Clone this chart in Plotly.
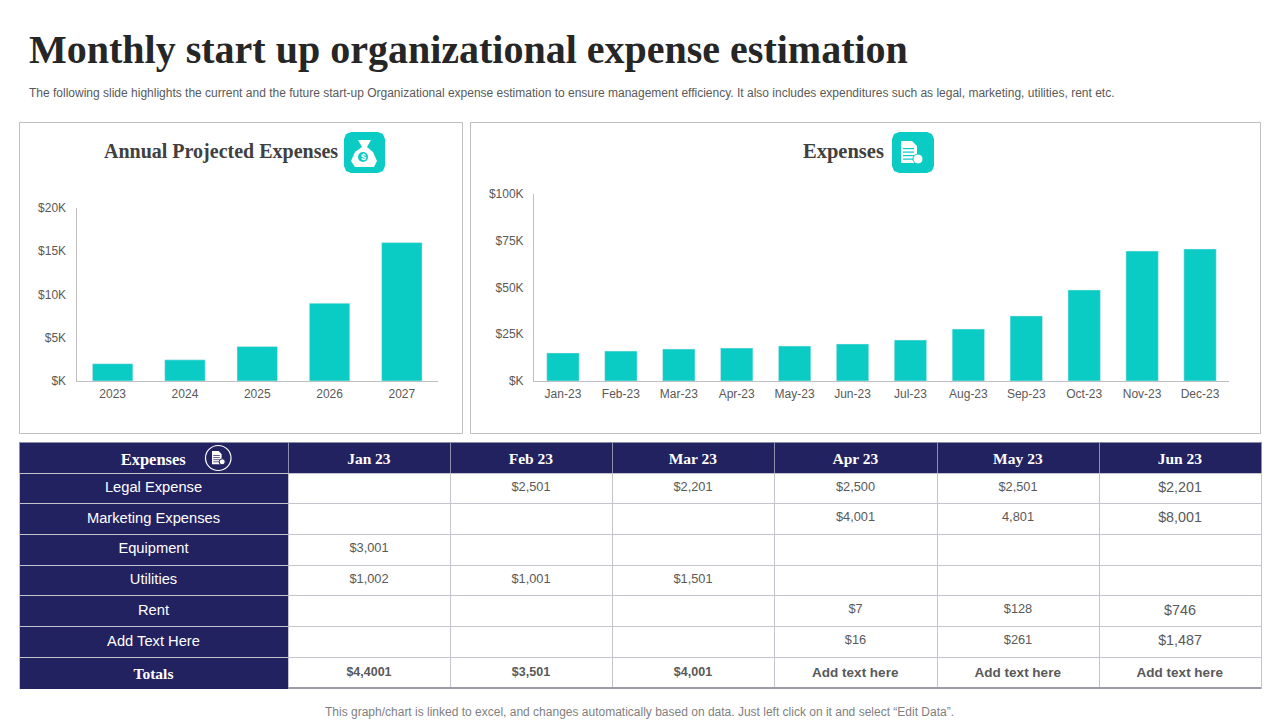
import plotly.graph_objects as go

# chart values
years = ['2023', '2024', '2025', '2026', '2027']
annual = [2000, 2450, 4000, 9000, 16000]
annual_ticks = [0, 5000, 10000, 15000, 20000]
annual_labels = ['$K', '$5K', '$10K', '$15K', '$20K']

months = ['Jan-23', 'Feb-23', 'Mar-23', 'Apr-23', 'May-23', 'Jun-23',
          'Jul-23', 'Aug-23', 'Sep-23', 'Oct-23', 'Nov-23', 'Dec-23']
monthly = [15000, 16000, 17100, 17600, 18700, 19800, 21900, 27800, 34800, 48700, 69500, 70600]
monthly_ticks = [0, 25000, 50000, 75000, 100000]
monthly_labels = ['$K', '$25K', '$50K', '$75K', '$100K']

# table columns
table_head = ['Expenses', 'Jan 23', 'Feb 23', 'Mar 23', 'Apr 23', 'May 23', 'Jun 23']
row_names = ['Legal Expense', 'Marketing Expenses', 'Equipment', 'Utilities', 'Rent', 'Add Text Here']
jan = ['', '', '$3,001', '$1,002', '', '']
feb = ['$2,501', '', '', '$1,001', '', '']
mar = ['$2,201', '', '', '$1,501', '', '']
apr = ['$2,500', '$4,001', '', '', '$7', '$16']
may = ['$2,501', '4,801', '', '', '$128', '$261']
jun = ['$2,201', '$8,001', '', '', '$746', '$1,487']
totals = ['Totals', '$4,4001', '$3,501', '$4,001', 'Add text here', 'Add text here', 'Add text here']

TEAL = '#0BCBC5'
NAVY = '#232261'
GREY = '#595959'
SANS = 'Liberation Sans'
SERIF = 'Liberation Serif'
COL_WIDTHS = [269, 162, 162, 162, 163, 162, 162]
CLEAR = 'rgba(0,0,0,0)'
HEADER_STRIP = 16  # a table always keeps this much for its header row, even an empty one

# the page keeps an 8px body margin, so the figure is 8px short each way
W = 1272
H = 712


# the slide is laid out in pixels, paper coords are easier to get this way
def px(x):
    return (x - 8) / W


def py(y):
    return 1 - (y - 8) / H


def label(x, y, text, size, color=GREY, font=SANS, anchor='left'):
    return dict(text=text, x=px(x), y=py(y), xref='paper', yref='paper', showarrow=False,
                xanchor=anchor, yanchor='middle', font=dict(family=font, size=size, color=color))


def box(x0, y0, x1, y1, line='#BFBFBF', fill=None, width=1):
    return dict(type='rect', xref='paper', yref='paper', x0=px(x0), y0=py(y0), x1=px(x1), y1=py(y1),
                line=dict(color=line, width=width), fillcolor=fill, layer='below')


def path_px(points, fill):
    d = 'M ' + ' L '.join(f'{px(a):.5f},{py(b):.5f}' for a, b in points) + ' Z'
    return dict(type='path', xref='paper', yref='paper', path=d, fillcolor=fill, line=dict(width=0))


def tile(x0, y0, x1, y1, r=7):
    pts = [(x0 + r, y0), (x1 - r, y0), (x1 - r * 0.3, y0 + r * 0.3), (x1, y0 + r), (x1, y1 - r),
           (x1 - r * 0.3, y1 - r * 0.3), (x1 - r, y1), (x0 + r, y1), (x0 + r * 0.3, y1 - r * 0.3),
           (x0, y1 - r), (x0, y0 + r), (x0 + r * 0.3, y0 + r * 0.3)]
    return path_px(pts, TEAL)


def doc_icon(x, y, s, fg, bg):
    # small sheet with a coin, x,y is top left of the sheet
    out = [path_px([(x, y), (x + 11 * s, y), (x + 16 * s, y + 5 * s), (x + 16 * s, y + 22 * s), (x, y + 22 * s)], fg)]
    for i in range(4):
        yy = y + (7 + i * 3.5) * s
        out.append(path_px([(x + 2 * s, yy), (x + 13 * s, yy), (x + 13 * s, yy + 1.2 * s), (x + 2 * s, yy + 1.2 * s)], bg))
    out.append(dict(type='circle', xref='paper', yref='paper', x0=px(x + 12 * s), x1=px(x + 22 * s),
                    y0=py(y + 13 * s), y1=py(y + 23 * s), fillcolor=fg, line=dict(color=bg, width=1)))
    return out


def table_part(top, bottom, columns, fills, height, family, sizes, colors, line='#C4C4CC'):
    # font size only goes per column in a table, so head, body and totals are three tables stacked
    return go.Table(
        domain=dict(x=[px(19), px(1261)], y=[py(bottom), py(top - HEADER_STRIP)]),
        columnwidth=COL_WIDTHS,
        header=dict(height=HEADER_STRIP, fill_color=CLEAR, line=dict(color=CLEAR, width=0)),
        cells=dict(values=columns, height=height, fill_color=fills, line=dict(color=line, width=1), align='center',
                   font=dict(family=family, size=sizes, color=colors)),
    )


fig = go.Figure()

fig.add_trace(go.Bar(x=years, y=annual, marker_color=TEAL, xaxis='x', yaxis='y'))
fig.add_trace(go.Bar(x=months, y=monthly, marker_color=TEAL, xaxis='x2', yaxis='y2'))

fig.add_trace(table_part(442, 474, [['<b>' + h + '</b>'] for h in table_head], [NAVY] * 7, 31, SERIF,
                         [16.5] + [15.5] * 6, 'white', line='#8E8EAE'))
fig.add_trace(table_part(473, 658, [row_names, jan, feb, mar, apr, may, jun], [NAVY] + ['white'] * 6, 30.7, SANS,
                         [14.7, 12.8, 12.8, 12.8, 12.8, 12.8, 14.3], ['white'] + [GREY] * 6))
fig.add_trace(table_part(657, 689, [['<b>' + t + '</b>'] for t in totals], [NAVY] + ['white'] * 6, 31,
                         [SERIF] + [SANS] * 6, [15.5] + [12.5] * 3 + [13.5] * 3, ['white'] + [GREY] * 6))

axis_line = '#BFBFBF'
tick_font = dict(family=SANS, size=12, color=GREY)
fig.update_layout(
    width=W, height=H, margin=dict(l=0, r=0, t=0, b=0), paper_bgcolor='white', plot_bgcolor='white',
    showlegend=False, bargap=0.44,
    xaxis=dict(domain=[px(76.5), px(438)], anchor='y', showline=True, linecolor=axis_line, ticks='', automargin=False,
               tickfont=tick_font, showgrid=False, type='category', ticklabelstandoff=2),
    yaxis=dict(domain=[py(381), py(208)], anchor='x', range=[0, 20000], tickvals=annual_ticks, ticktext=annual_labels,
               showline=True, linecolor=axis_line, ticks='', tickfont=tick_font, showgrid=False, zeroline=False,
               automargin=False, ticklabelstandoff=7),
    xaxis2=dict(domain=[px(534), px(1229)], anchor='y2', showline=True, linecolor=axis_line, ticks='', automargin=False,
                tickfont=tick_font, showgrid=False, type='category', ticklabelstandoff=2),
    yaxis2=dict(domain=[py(381), py(194)], anchor='x2', range=[0, 100000], tickvals=monthly_ticks, ticktext=monthly_labels,
                showline=True, linecolor=axis_line, ticks='', tickfont=tick_font, showgrid=False, zeroline=False,
                automargin=False, ticklabelstandoff=7),
    annotations=[
        label(27, 50, '<b>Monthly start up organizational expense estimation</b>', 40, '#262626', SERIF),
        label(27, 93, 'The following slide highlights the current and the future start-up Organizational expense '
                      'estimation to ensure management efficiency. It also includes expenditures such as legal, '
                      'marketing, utilities, rent etc.', 12, GREY),
        label(340, 151, '<b>Annual Projected Expenses</b>', 20, '#404040', SERIF, 'right'),
        label(886, 151, '<b>Expenses</b>', 20.5, '#404040', SERIF, 'right'),
        label(639, 712, 'This graph/chart is linked to excel, and changes automatically based on data. '
                        'Just left click on it and select \u201cEdit Data\u201d.', 12, '#7F7F7F', SANS, 'center'),
        label(363, 157, '<b>$</b>', 9, 'white', SANS, 'center'),
    ],
)

shapes = [box(19.5, 122.5, 462.5, 433.5), box(470.5, 122.5, 1260.5, 433.5)]

# money bag tile
shapes.append(tile(344, 132, 385, 173))
shapes.append(path_px([(358, 140), (371, 140), (367, 147), (373, 152), (377, 161), (374, 167), (355, 167),
                       (351, 161), (355, 152), (362, 147)], 'white'))
shapes.append(dict(type='circle', xref='paper', yref='paper', x0=px(358), x1=px(368), y0=py(152), y1=py(162),
                   fillcolor=TEAL, line=dict(width=0)))

# document tile and the little one in the table header
shapes.append(tile(892, 132, 934, 173))
shapes.extend(doc_icon(901, 141, 1.0, 'white', TEAL))
shapes.append(dict(type='circle', xref='paper', yref='paper', x0=px(205.5), x1=px(231), y0=py(445.5), y1=py(470.5),
                   fillcolor=NAVY, line=dict(color='white', width=1.2)))
shapes.extend(doc_icon(212, 451, 0.6, 'white', NAVY))
# heavier rule under the table
shapes.append(dict(type='line', xref='paper', yref='paper', x0=px(288), x1=px(1261), y0=py(688), y1=py(688),
                   line=dict(color='#9A9AA8', width=2)))

fig.update_layout(shapes=shapes)

fig.write_html("out.html", config=dict(displayModeBar=False))
